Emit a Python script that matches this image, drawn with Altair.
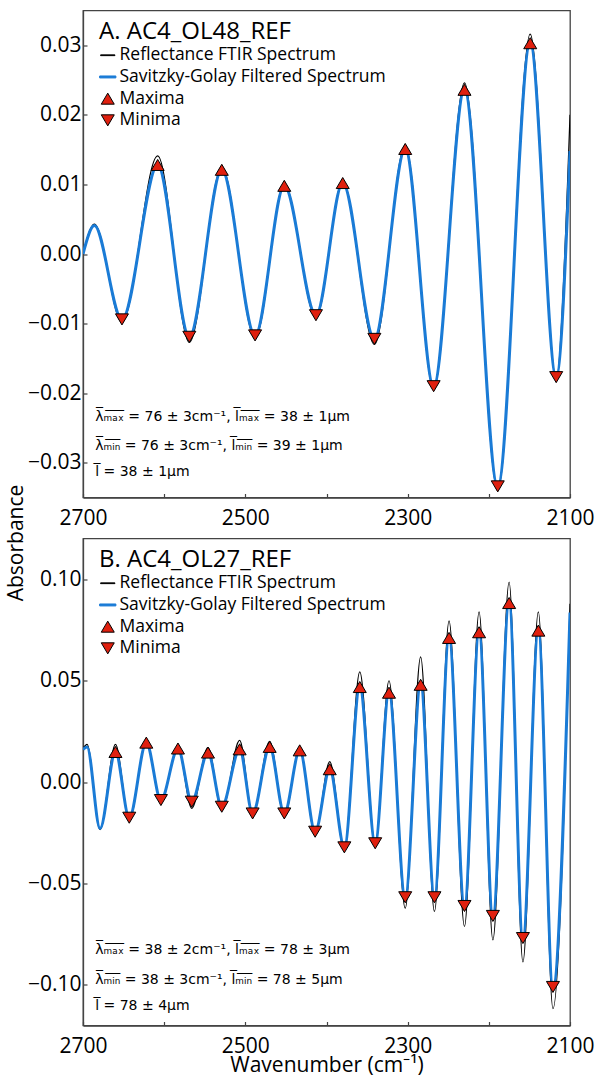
import altair as alt
import pandas as pd

# ---------------- Panel A: AC4_OL48_REF ----------------
a_wn = [2700, 2686, 2652, 2608, 2569, 2529, 2488, 2452, 2413, 2380, 2341, 2303, 2268, 2230, 2189, 2149, 2117, 2100]
a_sg = [0.0000, 0.0041, -0.0094, 0.0128, -0.0119, 0.0121, -0.0117, 0.0098, -0.0088, 0.0102, -0.0122, 0.0151,
        -0.0190, 0.0236, -0.0334, 0.0303, -0.0177, 0.0148]
a_raw = [0.0000, 0.0043, -0.0098, 0.0141, -0.0127, 0.0125, -0.0121, 0.0100, -0.0091, 0.0104, -0.0130, 0.0156,
         -0.0194, 0.0246, -0.0340, 0.0316, -0.0180, 0.0200]
a_max_wn = [2608, 2529, 2452, 2380, 2303, 2230, 2149]
a_max_val = [0.0128, 0.0121, 0.0098, 0.0102, 0.0151, 0.0236, 0.0303]
a_min_wn = [2652, 2569, 2488, 2413, 2341, 2268, 2189, 2117]
a_min_val = [-0.0094, -0.0119, -0.0117, -0.0088, -0.0122, -0.0190, -0.0334, -0.0177]
a_yticks = [-0.03, -0.02, -0.01, 0.0, 0.01, 0.02, 0.03]

# ---------------- Panel B: AC4_OL27_REF ----------------
b_wn = [2700, 2695, 2679, 2660, 2643, 2622, 2604, 2583, 2566, 2546, 2529, 2507, 2491, 2470, 2452, 2433, 2414,
        2396, 2378, 2359, 2340, 2323, 2303, 2284, 2267, 2249, 2230, 2212, 2195, 2175, 2158, 2139, 2121, 2100]
b_sg = [0.0160, 0.0173, -0.0229, 0.0148, -0.0176, 0.0194, -0.0089, 0.0165, -0.0097, 0.0145, -0.0122, 0.0161,
        -0.0155, 0.0173, -0.0155, 0.0156, -0.0245, 0.0063, -0.0322, 0.0468, -0.0302, 0.0440, -0.0568, 0.0479,
        -0.0568, 0.0710, -0.0611, 0.0738, -0.0660, 0.0882, -0.0769, 0.0746, -0.1010, 0.0835]
b_raw = [0.0165, 0.0185, -0.0235, 0.0185, -0.0185, 0.0200, -0.0095, 0.0170, -0.0130, 0.0170, -0.0140, 0.0205,
         -0.0165, 0.0200, -0.0170, 0.0165, -0.0255, 0.0100, -0.0335, 0.0543, -0.0315, 0.0499, -0.0622, 0.0617,
         -0.0638, 0.0794, -0.0712, 0.0838, -0.0778, 0.0985, -0.0887, 0.0838, -0.1117, 0.0878]
b_max_wn = [2660, 2622, 2583, 2546, 2507, 2470, 2433, 2396, 2359, 2323, 2284, 2249, 2212, 2175, 2139]
b_max_val = [0.0148, 0.0194, 0.0165, 0.0145, 0.0161, 0.0173, 0.0156, 0.0063, 0.0468, 0.0440, 0.0479, 0.0710,
             0.0738, 0.0882, 0.0746]
b_min_wn = [2643, 2604, 2566, 2529, 2491, 2452, 2414, 2378, 2340, 2303, 2267, 2230, 2195, 2158, 2121]
b_min_val = [-0.0176, -0.0089, -0.0097, -0.0122, -0.0155, -0.0155, -0.0245, -0.0322, -0.0302, -0.0568, -0.0568,
             -0.0611, -0.0660, -0.0769, -0.1010]
b_yticks = [-0.10, -0.05, 0.0, 0.05, 0.10]

x_ticks = [2100, 2200, 2300, 2400, 2500, 2600, 2700]
series_names = ["Reflectance FTIR Spectrum", "Savitzky-Golay Filtered Spectrum", "Maxima", "Minima"]


def ov(s):
    return "".join(c + "\u0305" for c in s)


SUB_MAX = "\u2098\u2090\u2093"
SUB_MIN = "\u2098\u1d62\u2099"
CM = "cm\u207b\u00b9"

a_notes = [
    ov("\u03bb" + SUB_MAX) + " = 76 \u00b1 3" + CM + ", " + ov("l" + SUB_MAX) + " = 38 \u00b1 1\u03bcm",
    ov("\u03bb" + SUB_MIN) + " = 76 \u00b1 3" + CM + ", " + ov("l" + SUB_MIN) + " = 39 \u00b1 1\u03bcm",
    ov("l") + " = 38 \u00b1 1\u03bcm",
]
a_note_y = [-0.0234, -0.0276, -0.0314]
b_notes = [
    ov("\u03bb" + SUB_MAX) + " = 38 \u00b1 2" + CM + ", " + ov("l" + SUB_MAX) + " = 78 \u00b1 3\u03bcm",
    ov("\u03bb" + SUB_MIN) + " = 38 \u00b1 3" + CM + ", " + ov("l" + SUB_MIN) + " = 78 \u00b1 5\u03bcm",
    ov("l") + " = 78 \u00b1 4\u03bcm",
]
b_note_y = [-0.0828, -0.0975, -0.1105]
note_wn = 2685

BLUE = "#1a7bd6"
RED = "#e0200f"
AX = "#444444"
FONT = "Open Sans"
TRI_UP = "M0,-0.85L1,0.85L-1,0.85Z"
TRI_DOWN = "M0,0.85L1,-0.85L-1,-0.85Z"
RAW_PATH = "M-1.1,-0.06L1.1,-0.06L1.1,0.06L-1.1,0.06Z"
SG_PATH = "M-1.25,-0.15L1.25,-0.15L1.25,0.15L-1.25,0.15Z"


def panel(title, wn, sg, raw, mx_wn, mx_v, mn_wn, mn_v, ydom, yticks, notes, note_y, xtitle):
    xs = alt.Scale(domain=[2100, 2700], reverse=True, nice=False, zero=False)
    ys = alt.Scale(domain=ydom, nice=False, zero=False)
    x_axis = alt.Axis(values=x_ticks, format="d", labelExpr="datum.value % 200 == 0 ? '' : datum.label",
                      labelFlush=False, tickSize={"expr": "-4"}, labelPadding=14, titlePadding=-2)
    y_axis = alt.Axis(values=yticks, format=".2f", labelFlush=False, tickSize={"expr": "-4"}, labelPadding=6)

    df = pd.DataFrame({"wn": wn, "sg": sg, "raw": raw})
    base = alt.Chart(df)
    raw_line = base.mark_line(color="black", strokeWidth=1.2, interpolate="monotone", clip=True).encode(
        x=alt.X("wn:Q", scale=xs, axis=x_axis, title=xtitle if xtitle else None),
        y=alt.Y("raw:Q", scale=ys, axis=y_axis, title=None),
        order=alt.Order("wn:Q", sort="descending"),
    )
    sg_line = base.mark_line(color=BLUE, strokeWidth=3, interpolate="monotone", clip=True).encode(
        x="wn:Q", y="sg:Q", order=alt.Order("wn:Q", sort="descending"))

    mx = alt.Chart(pd.DataFrame({"wn": mx_wn, "v": mx_v})).mark_point(
        shape=TRI_UP, filled=True, fill=RED, stroke="black", strokeWidth=1, size=169, opacity=1, clip=True
    ).encode(x="wn:Q", y="v:Q")
    mn = alt.Chart(pd.DataFrame({"wn": mn_wn, "v": mn_v})).mark_point(
        shape=TRI_DOWN, filled=True, fill=RED, stroke="black", strokeWidth=1, size=169, opacity=1, clip=True
    ).encode(x="wn:Q", y="v:Q")

    notes_df = pd.DataFrame({"wn": [note_wn] * len(notes), "v": note_y, "t": notes})
    txt = alt.Chart(notes_df).mark_text(align="left", baseline="middle", fontSize=14,
                                        font="DejaVu Sans", color="black").encode(
        x="wn:Q", y="v:Q", text="t:N")

    leg = alt.Legend(title=title, orient="none", legendX=16, legendY=9, titleFontSize=24,
                     titleFontWeight="normal", titleColor="black", titleFont=FONT, labelFont=FONT,
                     labelFontSize=17.5, labelColor="black", symbolSize=169, symbolStrokeWidth=1,
                     rowPadding=2.7, titlePadding=3, labelOffset=3, padding=0, symbolOpacity=1,
                     titleLimit=500, labelLimit=500)
    leg_df = pd.DataFrame({"s": series_names})
    legend_layer = alt.Chart(leg_df).mark_point(opacity=0, filled=True, size=169).encode(
        shape=alt.Shape("s:N", sort=series_names,
                        scale=alt.Scale(domain=series_names, range=[RAW_PATH, SG_PATH, TRI_UP, TRI_DOWN]),
                        legend=leg),
        fill=alt.Fill("s:N", sort=series_names,
                      scale=alt.Scale(domain=series_names, range=["black", BLUE, RED, RED]), legend=leg),
        stroke=alt.Stroke("s:N", sort=series_names,
                          scale=alt.Scale(domain=series_names, range=["black", BLUE, "black", "black"]),
                          legend=leg),
    )
    return alt.layer(raw_line, sg_line, mx, mn, txt, legend_layer).properties(width=487, height=487)


pa = panel("A. AC4_OL48_REF", a_wn, a_sg, a_raw, a_max_wn, a_max_val, a_min_wn, a_min_val,
           [-0.035, 0.035], a_yticks, a_notes, a_note_y, None)
pb = panel("B. AC4_OL27_REF", b_wn, b_sg, b_raw, b_max_wn, b_max_val, b_min_wn, b_min_val,
           [-0.12, 0.12], b_yticks, b_notes, b_note_y, "Wavenumber (cm\u207b\u00b9)")

chart = alt.vconcat(
    pa, pb, spacing=8,
    title=alt.TitleParams(text="Absorbance", orient="left", anchor="middle", fontSize=21, font=FONT,
                          fontWeight="normal", color="black", offset=0),
).resolve_scale(
    shape="independent", fill="independent", stroke="independent", x="independent", y="independent"
).properties(
    padding={"left": 5, "top": 9.5, "right": 0, "bottom": 0}
).configure(font=FONT).configure_view(
    stroke=AX, strokeWidth=1.3
).configure_axis(
    domainColor=AX, domainWidth=1.3, tickColor=AX, tickWidth=1.2, labelColor="black", labelFontSize=21,
    titleFontSize=21, titleFontWeight="normal", titleColor="black", grid=False, labelFont=FONT, titleFont=FONT
)

chart.save("out.html", embed_options={"renderer": "svg", "actions": False})
